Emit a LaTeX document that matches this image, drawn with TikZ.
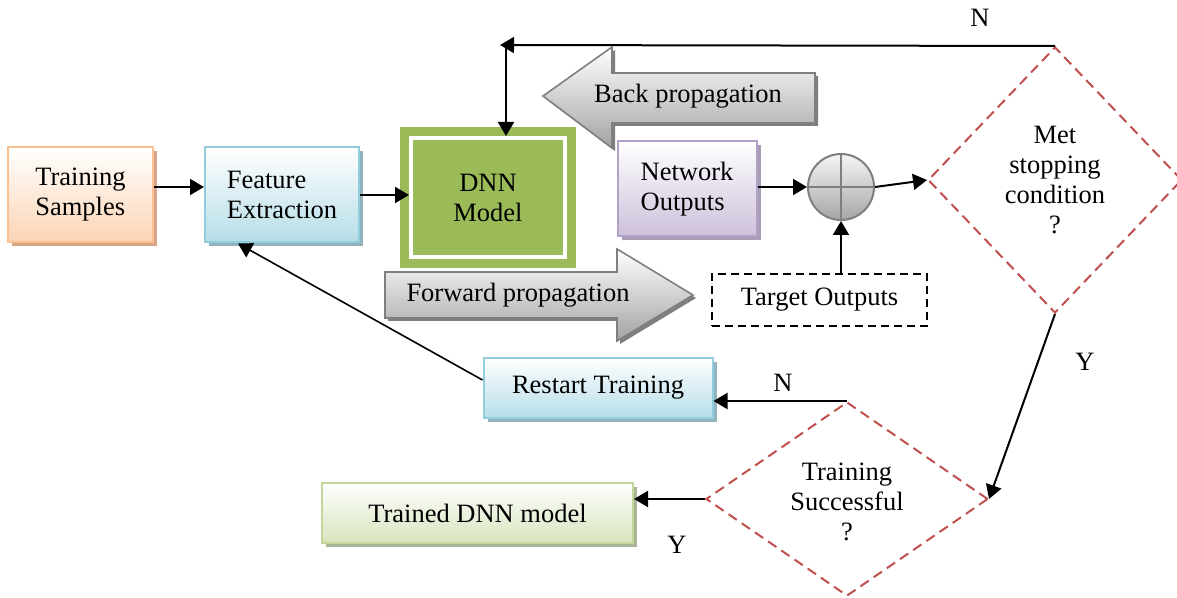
\documentclass[tikz,border=0pt]{standalone}
\usepackage{fontspec}
\setmainfont{Liberation Serif}
\usetikzlibrary{shapes.geometric, arrows.meta, fit, backgrounds, shadows}
\definecolor{sampleline}{HTML}{FAC090}
\definecolor{samplefill}{HTML}{FBD4B4}
\definecolor{sampleshade}{HTML}{D6A586}
\definecolor{featureline}{HTML}{92CDDC}
\definecolor{featurefill}{HTML}{B6DDE8}
\definecolor{featureshade}{HTML}{92B2BD}
\definecolor{outputline}{HTML}{B2A2C7}
\definecolor{outputfill}{HTML}{CCC0DA}
\definecolor{outputshade}{HTML}{A89DB4}
\definecolor{trainedline}{HTML}{C3D69B}
\definecolor{trainedfill}{HTML}{D7E4BD}
\definecolor{trainedshade}{HTML}{A8B596}
\definecolor{dnngreen}{HTML}{9BBB59}
\definecolor{decisionred}{HTML}{C0504D}
\definecolor{arrowedge}{HTML}{7F7F7F}
\definecolor{arrowfill}{HTML}{A3A3A3}

\begin{document}
\begin{tikzpicture}[
    x=0.5pt, y=-0.5pt,
    font=\fontsize{13.25}{15}\selectfont,
    block/.style={rectangle, draw=#1line, top color=white, bottom color=#1fill, line width=1pt, align=left, inner sep=0pt,
        drop shadow={shadow xshift=2pt, shadow yshift=-2pt, fill=#1shade, opacity=1}},
    decision/.style={diamond, draw=decisionred, dash pattern=on 5pt off 3pt, line width=1pt, align=center, inner sep=0pt},
    bigarrow/.style={draw=arrowedge, line width=0.8pt, top color=white, bottom color=arrowfill},
    arrow/.style={-{Triangle[length=7pt, width=8pt]}, line width=1pt}
]
\useasboundingbox (0,0) rectangle (1177,598);
% boxes
\node[block=sample, minimum width=72.5pt, minimum height=47.5pt] (samples) at (80.5,195) {Training\\Samples};
\node[block=feature, minimum width=77pt, minimum height=47.5pt] (feature) at (282,195) {Feature\\Extraction};
\node[rectangle, fill=dnngreen, draw=white, line width=2pt, minimum width=77pt, minimum height=59.5pt, align=center] (dnn) at (488,197.5) {DNN\\Model};
\node[block=output, minimum width=69.5pt, minimum height=47.5pt] (netout) at (687,189) {Network\\Outputs};
\node[circle, draw=arrowedge, line width=1pt, top color=gray!8, bottom color=gray!70, minimum size=33pt, inner sep=0pt] (sum) at (841,187) {};
\draw[arrowedge, line width=1pt] (sum.north) -- (sum.south) (sum.west) -- (sum.east);
\node[rectangle, draw, dash pattern=on 4pt off 2.5pt, line width=1pt, minimum width=107.5pt, minimum height=26pt] (target) at (819.5,300) {Target Outputs};
\node[decision, minimum width=127pt, minimum height=133pt] (stop) at (1055,180) {Met\\stopping\\condition\\?};
\node[decision, minimum width=141pt, minimum height=97pt] (success) at (847,499) {\raisebox{-6.3pt}[10pt][10pt]{\begin{tabular}{@{}c@{}}Training\\Successful\\?\end{tabular}}};
\node[block=feature, minimum width=114.5pt, minimum height=30pt] (restart) at (598,388) {Restart Training};
\node[block=trained, minimum width=155.5pt, minimum height=30pt, align=center] (trained) at (477.5,513) {Trained DNN model};
% propagation arrows
\fill[arrowedge, shift={(3,3)}] (543,96) -- (612,47) -- (612,73) -- (815,73) -- (815,123) -- (612,123) -- (612,148) -- cycle;
\shadedraw[bigarrow] (543,96) -- (612,47) -- (612,73) -- (815,73) -- (815,123) -- (612,123) -- (612,148) -- cycle;
\node (backtext) at (688,96) {Back propagation};
\fill[arrowedge, shift={(3,3)}] (385,272) -- (617,272) -- (617,249) -- (693,295) -- (617,341) -- (617,318) -- (385,318) -- cycle;
\shadedraw[bigarrow] (385,272) -- (617,272) -- (617,249) -- (693,295) -- (617,341) -- (617,318) -- (385,318) -- cycle;
\node (fwdtext) at (518,295) {Forward propagation};
\begin{scope}[on background layer]
    \node[fit=(dnn), fill=dnngreen, inner sep=4.5pt] (dnnframe) {};
\end{scope}
% connectors
\coordinate (backend) at (500,45);
\coordinate (backdrop) at (506,45);
\draw[arrow] ([yshift=4pt]samples.east) -- ([yshift=4pt]feature.west);
\draw[arrow] (feature.east) -- (feature.east -| dnn.west);
\draw[arrow] (sum.west -| netout.east) -- (sum.west);
\draw[arrow] (sum.east) -- (stop.west);
\draw[arrow] (sum.south |- target.north) -- (sum.south);
\draw[arrow] (stop.north) -- (backend);
\draw[arrow] (backdrop) -- (backdrop |- dnn.north);
\draw[arrow] (stop.south) -- (success.east);
\draw[arrow] (success.north) -- (success.north -| restart.east);
\draw[arrow] (success.west) -- (success.west -| trained.east);
\draw[arrow, line width=0.8pt] ([yshift=4pt]restart.west) -- ([xshift=-22pt]feature.south);
% labels
\node (ntop) at (980,18) {N};
\node (ystop) at (1085,362) {Y};
\node (nrestart) at (783,383) {N};
\node (ytrained) at (677,545) {Y};
\end{tikzpicture}
\end{document}
